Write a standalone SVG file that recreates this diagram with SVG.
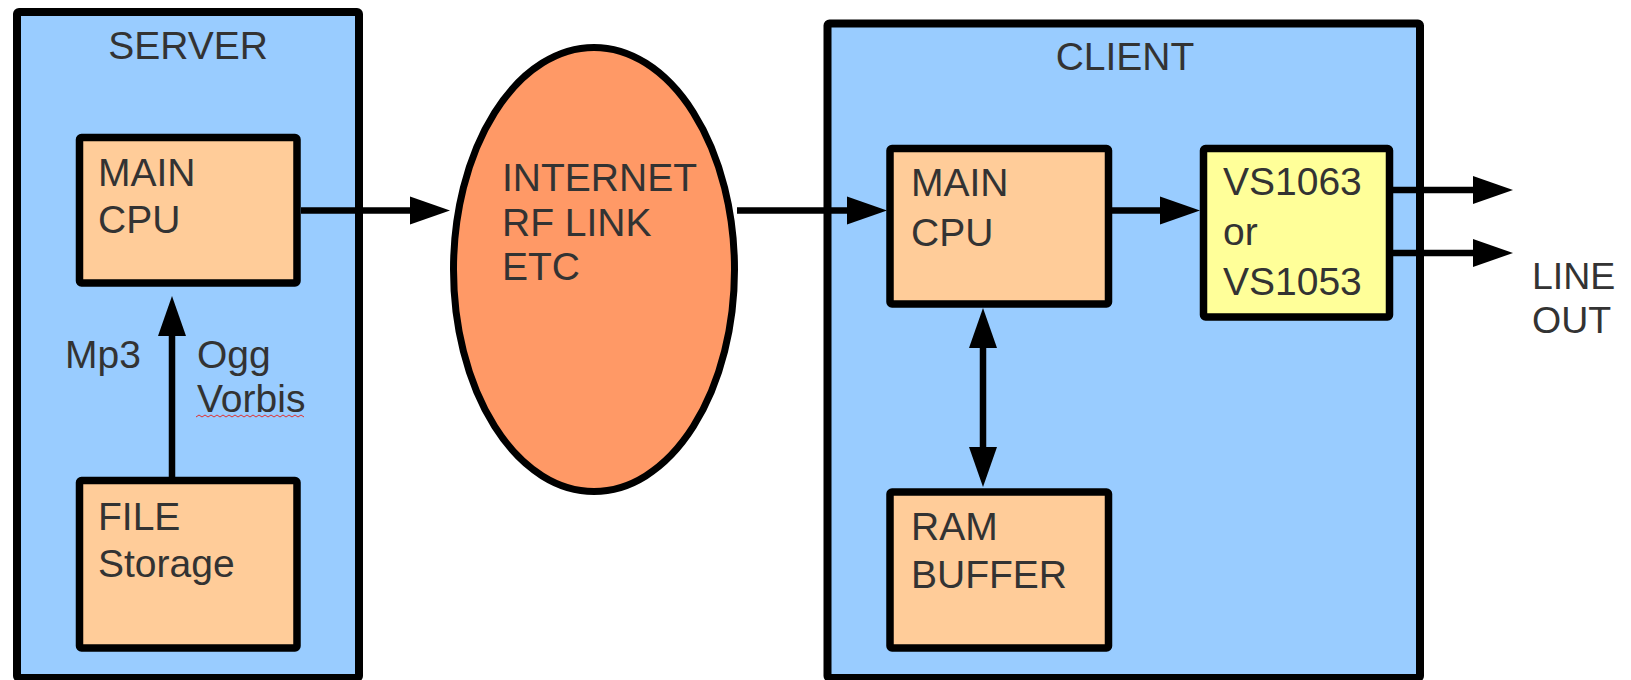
<svg xmlns="http://www.w3.org/2000/svg" width="1631" height="680" viewBox="0 0 1631 680">
  <style>
    .frame { fill: #99CCFF; stroke: #000; stroke-width: 8; }
    .box { fill: #FFCC99; stroke: #000; stroke-width: 7.5; }
    .chip { fill: #FFFF99; stroke: #000; stroke-width: 7.5; }
    .cloud { fill: #FF9966; stroke: #000; stroke-width: 7; }
    .t { font-family: "Liberation Sans", Arial, sans-serif; font-size: 39px; fill: #333333; }
    .conn { stroke: #000; stroke-width: 6.5; fill: none; }
  </style>
  <defs>
    <marker id="ah" markerUnits="userSpaceOnUse" markerWidth="42" markerHeight="28" refX="1" refY="14" orient="auto-start-reverse" overflow="visible">
      <path d="M0,0 L40,14 L0,28 z" fill="#000"/>
    </marker>
  </defs>
  <rect width="1631" height="680" fill="#fff"/>

  <g id="server">
    <rect class="frame" x="17" y="12" width="342" height="666" rx="2"/>
    <text class="t" x="188" y="59" text-anchor="middle">SERVER</text>
  </g>
  <g id="server-cpu">
    <rect class="box" x="79.5" y="137.5" width="217.5" height="145.5" rx="2"/>
    <text class="t" x="98" y="186">MAIN</text>
    <text class="t" x="98" y="233">CPU</text>
  </g>
  <g id="file-storage">
    <rect class="box" x="79.5" y="480.5" width="217.5" height="167.5" rx="2"/>
    <text class="t" x="98" y="530">FILE</text>
    <text class="t" x="98" y="577">Storage</text>
  </g>
  <g id="internet">
    <ellipse class="cloud" cx="594" cy="269.5" rx="140.5" ry="222"/>
    <text class="t" x="502" y="191">INTERNET</text>
    <text class="t" x="502" y="236">RF LINK</text>
    <text class="t" x="502" y="280">ETC</text>
  </g>
  <g id="client">
    <rect class="frame" x="827.5" y="23.5" width="592.5" height="654.5" rx="2"/>
    <text class="t" x="1125" y="70" text-anchor="middle">CLIENT</text>
  </g>
  <g id="client-cpu">
    <rect class="box" x="890" y="148.5" width="218.5" height="155.5" rx="2"/>
    <text class="t" x="911" y="196">MAIN</text>
    <text class="t" x="911" y="246">CPU</text>
  </g>
  <g id="decoder">
    <rect class="chip" x="1203.5" y="148.5" width="186" height="168.5" rx="2"/>
    <text class="t" x="1223" y="195">VS1063</text>
    <text class="t" x="1223" y="245">or</text>
    <text class="t" x="1223" y="295">VS1053</text>
  </g>
  <g id="ram-buffer">
    <rect class="box" x="890" y="492" width="218.5" height="156" rx="2"/>
    <text class="t" x="911" y="540">RAM</text>
    <text class="t" x="911" y="588">BUFFER</text>
  </g>

  <g id="connectors">
    <line class="conn" x1="301" y1="210.5" x2="411" y2="210.5" marker-end="url(#ah)"/>
    <line class="conn" x1="737" y1="210.5" x2="848" y2="210.5" marker-end="url(#ah)"/>
    <line class="conn" x1="1112" y1="210.5" x2="1161" y2="210.5" marker-end="url(#ah)"/>
    <line class="conn" x1="1393" y1="190" x2="1474" y2="190" marker-end="url(#ah)"/>
    <line class="conn" x1="1393" y1="253" x2="1474" y2="253" marker-end="url(#ah)"/>
    <line class="conn" x1="172" y1="477" x2="172" y2="335" marker-end="url(#ah)"/>
    <line class="conn" x1="983" y1="347" x2="983" y2="448" marker-start="url(#ah)" marker-end="url(#ah)"/>
  </g>

  <g id="labels">
    <text class="t" x="65" y="368">Mp3</text>
    <text class="t" x="197" y="368">Ogg</text>
    <text class="t" x="197" y="412">Vorbis</text>
    <path d="M196,417 l3,-2 l3,2 l3,-2 l3,2 l3,-2 l3,2 l3,-2 l3,2 l3,-2 l3,2 l3,-2 l3,2 l3,-2 l3,2 l3,-2 l3,2 l3,-2 l3,2 l3,-2 l3,2 l3,-2 l3,2 l3,-2 l3,2 l3,-2 l3,2 l3,-2 l3,2 l3,-2 l3,2 l3,-2 l3,2 l3,-2 l3,2 l3,-2 l3,2" fill="none" stroke="#E03030" stroke-width="1"/>
    <text class="t" x="1532" y="289" style="font-size:37.5px">LINE</text>
    <text class="t" x="1532" y="333" style="font-size:37.5px">OUT</text>
  </g>
</svg>
